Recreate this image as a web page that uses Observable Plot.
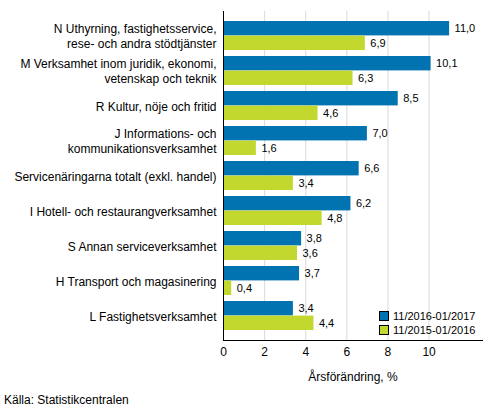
<!DOCTYPE html>
<html>
<head>
<meta charset="utf-8">
<script src="https://cdn.jsdelivr.net/npm/d3@7"></script>
<script src="https://cdn.jsdelivr.net/npm/@observablehq/plot@0.6"></script>
<style>
  html, body { margin: 0; padding: 0; background: #fff; }
  #wrap { position: relative; width: 493px; font-family: "Liberation Sans", Arial, sans-serif; }
  .legend { position: absolute; left: 379px; top: 309px; font-size: 11px; color: #000; }
  .legend div { display: flex; align-items: center; height: 14px; }
  .legend span.sw { display: inline-block; width: 8px; height: 8px; border: 1px solid #000; margin-right: 4px; }
  .caption { font-size: 12px; padding-left: 4px; margin-top: 3px; color: #000; }
</style>
</head>
<body>
<div id="wrap"></div>
<script>
const categories = [
  "N Uthyrning, fastighetsservice,\nrese- och andra stödtjänster",
  "M Verksamhet inom juridik, ekonomi,\nvetenskap och teknik",
  "R Kultur, nöje och fritid",
  "J Informations- och\nkommunikationsverksamhet",
  "Servicenäringarna totalt (exkl. handel)",
  "I Hotell- och restaurangverksamhet",
  "S Annan serviceverksamhet",
  "H Transport och magasinering",
  "L Fastighetsverksamhet"
];
const seriesNames = ["11/2016-01/2017", "11/2015-01/2016"];
const current = [11.0, 10.1, 8.5, 7.0, 6.6, 6.2, 3.8, 3.7, 3.4];
const previous = [6.9, 6.3, 4.6, 1.6, 3.4, 4.8, 3.6, 0.4, 4.4];
const xTicks = [0, 2, 4, 6, 8, 10];
const colors = ["#0073b0", "#c3d82e"];

const fmt = v => d3.format(".1f")(v).replace(".", ",");
const rowsA = categories.map((c, i) => ({category: c, value: current[i]}));
const rowsB = categories.map((c, i) => ({category: c, value: previous[i]}));

const half = 14.6;
const chart = Plot.plot({
  width: 493,
  height: 390,
  marginLeft: 223,
  marginRight: 11,
  marginTop: 11,
  marginBottom: 50,
  style: {fontFamily: "'Liberation Sans', Arial, sans-serif", fontSize: "12px", color: "#000", background: "#fff"},
  x: {domain: [0, 12.6]},
  y: {domain: categories, paddingInner: 0.17, paddingOuter: 0.28},
  marks: [
    Plot.gridX(xTicks.slice(1), {stroke: "#d9d9d9", strokeOpacity: 1, strokeWidth: 1}),
    Plot.barX(rowsA, {x: "value", y: "category", fill: colors[0], insetBottom: half}),
    Plot.barX(rowsB, {x: "value", y: "category", fill: colors[1], insetTop: half}),
    Plot.text(rowsA, {x: "value", y: "category", text: d => fmt(d.value), dy: -8, dx: 5, textAnchor: "start", fontSize: 11, fill: "#000"}),
    Plot.text(rowsB, {x: "value", y: "category", text: d => fmt(d.value), dy: 7, dx: 5, textAnchor: "start", fontSize: 11, fill: "#000"}),
    Plot.ruleX([0], {stroke: "#000", strokeWidth: 1}),
    Plot.axisY({tickSize: 0, tickPadding: 7, fontSize: 12, lineHeight: 1.17, label: null}),
    Plot.axisX({ticks: xTicks, tickSize: 0, tickPadding: 7, fontSize: 12, label: "Årsförändring, %", labelAnchor: "center", labelArrow: "none", labelOffset: 40, tickFormat: d => d}),
    Plot.frame({anchor: "bottom", stroke: "#000"})
  ]
});

const wrap = document.getElementById("wrap");
wrap.appendChild(chart);
const legend = document.createElement("div");
legend.className = "legend";
legend.innerHTML = seriesNames.map((s, i) =>
  `<div><span class="sw" style="background:${colors[i]}"></span>${s}</div>`).join("");
wrap.appendChild(legend);
const cap = document.createElement("div");
cap.className = "caption";
cap.textContent = "Källa: Statistikcentralen";
wrap.appendChild(cap);
</script>
</body>
</html>
